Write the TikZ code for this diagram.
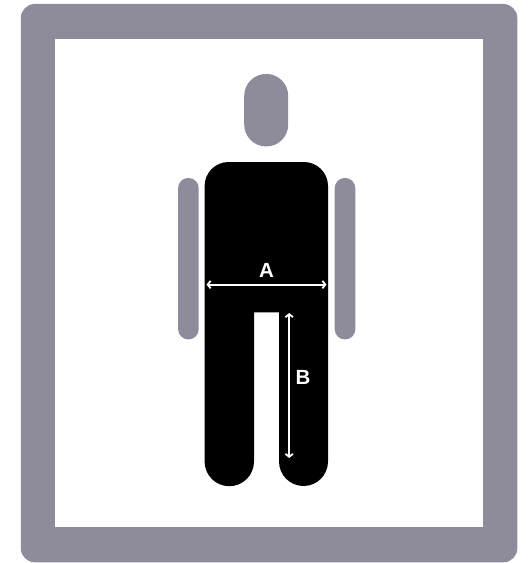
\documentclass[tikz,border=0pt]{standalone}
\usepackage{fontspec}
\setmainfont{Liberation Sans}
\usetikzlibrary{arrows.meta}

\definecolor{framegray}{HTML}{8E8C9B}

\begin{document}
\begin{tikzpicture}[
    x=1bp,
    y=-1bp,
    outerframe/.style={
        fill=framegray,
        rounded corners=14bp,
        minimum width=496.5bp,
        minimum height=558.3bp,
        inner sep=0pt
    },
    innerframe/.style={
        fill=white,
        minimum width=427.2bp,
        minimum height=488bp,
        inner sep=0pt
    },
    headblock/.style={
        fill=framegray,
        rounded corners=21.9bp,
        minimum width=44bp,
        minimum height=72.5bp,
        inner sep=0pt
    },
    armblock/.style={
        fill=framegray,
        rounded corners=10.2bp,
        minimum width=20.6bp,
        minimum height=161.5bp,
        inner sep=0pt
    },
    dimlabel/.style={
        text=white,
        font=\fontsize{20.5bp}{20.5bp}\selectfont\bfseries,
        inner sep=0pt
    },
    dimarrow/.style={
        {Straight Barb[length=3bp,width=7.5bp]}-{Straight Barb[length=3bp,width=7.5bp]},
        draw=white,
        line width=1.8bp
    }
]
\useasboundingbox (0,0) rectangle (529,563);
% ============================================================
% FRAME
% ============================================================
\node[outerframe] (outer) at (269.05,283.15) {};
\node[innerframe] (inner) at (269.1,283.3) {};
% ============================================================
% HEAD AND ARMS
% ============================================================
\node[headblock] (head) at (266.2,110.2) {};
\node[armblock] (leftarm) at (188.4,258.7) {};
\node[armblock] (rightarm) at (345,258.7) {};
% ============================================================
% BODY -- torso and both legs in one path
% ============================================================
\fill[black]
    (204.6,186)
    arc[start angle=180, end angle=270, radius=24]
    -- (304,162)
    arc[start angle=270, end angle=360, radius=24]
    -- (328,461.5)
    arc[start angle=0, end angle=180, radius=24.5]
    -- (279,312.3)
    -- (254,312.3)
    -- (254,461.5)
    arc[start angle=0, end angle=180, radius=24.7]
    -- cycle;
% ============================================================
% DIMENSIONS
% ============================================================
\coordinate (widthl) at (206.5,284.6);
\coordinate (widthr) at (326.5,284.6);
\coordinate (lent) at (289.2,313);
\coordinate (lenb) at (289.2,458);
\draw[dimarrow] (widthl) -- (widthr);
\draw[dimarrow] (lent) -- (lenb);
\node[dimlabel] (labela) at (266.5,270.5) {A};
\node[dimlabel] (labelb) at (303,377.5) {B};
\end{tikzpicture}
\end{document}
